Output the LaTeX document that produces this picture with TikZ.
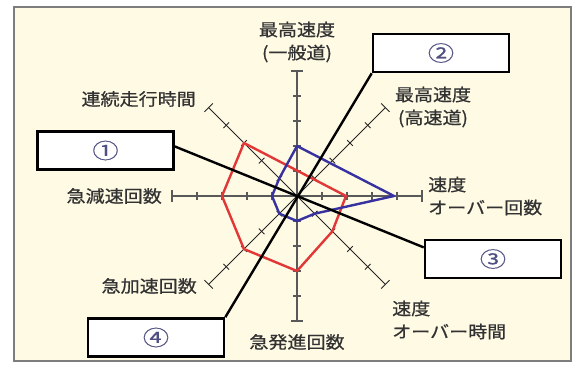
\documentclass[tikz,border=0pt]{standalone}
\usepackage{fontspec}
\newfontfamily\jp[FakeStretch=1.12,FakeBold=0.7]{Noto Sans CJK JP}
\newfontfamily\jpnum[FakeStretch=1.25,FakeBold=0.6]{Noto Sans CJK JP}
\usetikzlibrary{calc}
\definecolor{cream}{RGB}{254,250,228}
\definecolor{framegray}{RGB}{125,125,125}
\definecolor{txt}{RGB}{50,50,50}
\definecolor{redline}{RGB}{225,55,55}
\definecolor{blueline}{RGB}{55,50,160}
\definecolor{numcol}{RGB}{80,80,130}
\begin{document}
\begin{tikzpicture}[x=1pt,y=1pt,
  lbl/.style={font=\jp\fontsize{17}{23}\selectfont, text=txt, inner sep=0pt},
  callout/.style={draw=black, line width=2.6, fill=white, minimum width=136, minimum height=38, inner sep=0pt, font=\jpnum\fontsize{21}{21}\selectfont, text=numcol},
  mainaxis/.style={draw=black!65, line width=1.6},
  diagaxis/.style={draw=black!85, line width=0.9},
  leader/.style={draw=black, line width=2.4},
  redpoly/.style={draw=redline, line width=2.4, line join=round},
  bluepoly/.style={draw=blueline, line width=2.4, line join=round},
]
\useasboundingbox (0,0) rectangle (576,-365);
\fill[white] (0,0) rectangle (576,-365);
\draw[framegray, line width=2, fill=cream] (14,-7) rectangle (571,-361);
\coordinate (O) at (297,-196);
\begin{scope}[shift={(O)}]
  \foreach \a in {0,90,180,270} {
    \draw[mainaxis] (0,0) -- (\a:125);
    \foreach \r in {25,50,75,100} \draw[mainaxis, line width=1.2] (\a:\r) ++(\a+90:4) -- ++(\a-90:8);
    \draw[mainaxis, line width=1.4] (\a:125) ++(\a+90:6) -- ++(\a-90:12);
  }
  \foreach \a in {45,135,225,315} {
    \draw[diagaxis] (0,0) -- (\a:125);
    \foreach \r in {25,50,75,100} \draw[diagaxis] (\a:\r) ++(\a+90:4) -- ++(\a-90:8);
    \draw[diagaxis] (\a:125) ++(\a+90:6) -- ++(\a-90:12);
  }
  \draw[redpoly] (135:75) -- (0:49) -- (315:50) -- (270:75) -- (225:75) -- (180:75) -- cycle;
  \draw[bluepoly] (90:50) -- (0:97) -- (315:25) -- (270:25) -- (225:25) -- (180:25) -- (135:25) -- cycle;
\end{scope}
\node[callout] (b1) at (105.5,-150.5) {①};
\node[callout] (b2) at (441,-53) {②};
\node[callout] (b3) at (493,-259) {③};
\node[callout] (b4) at (156,-337.5) {④};
\coordinate (p1) at ($(b1.north east)!0.4!(b1.south east)$);
\coordinate (b3a) at (b3.north west);
\coordinate (b3b) at (b3.south west);
\draw[leader] (p1) -- (O) -- (intersection of p1--O and b3a--b3b);
\draw[leader] (b2.south west) -- (b4.north east);
\node[lbl, align=center] (l1) at (297,-42) {最高速度\\(一般道)};
\node[lbl, align=center] (l2) at (433,-107) {最高速度\\(高速道)};
\node[lbl, align=left, anchor=west] (l3) at (428,-196) {速度\\オーバー回数};
\node[lbl, align=left, anchor=west] (l4) at (392,-320) {速度\\オーバー時間};
\node[lbl] (l5) at (297,-342) {急発進回数};
\node[lbl, anchor=east] (l6) at (197,-286) {急加速回数};
\node[lbl, anchor=east] (l7) at (162,-196) {急減速回数};
\node[lbl, anchor=east] (l8) at (196,-99) {連続走行時間};
\end{tikzpicture}
\end{document}
